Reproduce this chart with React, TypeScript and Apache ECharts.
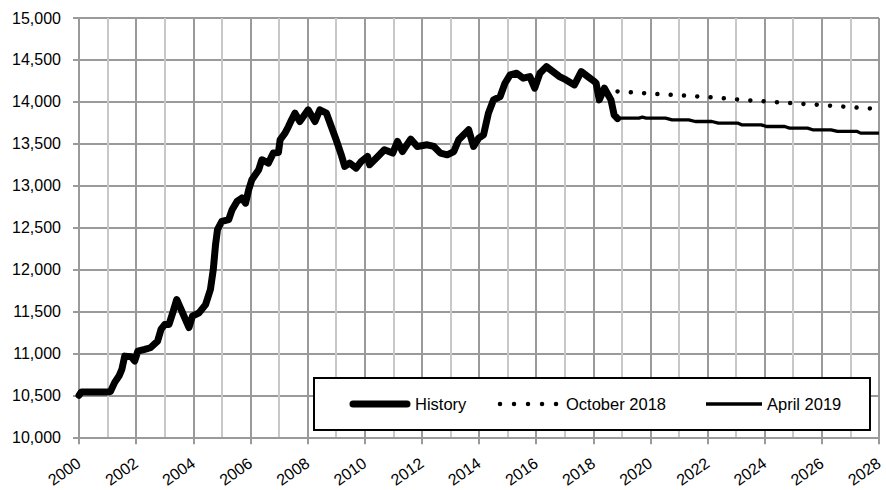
import React, { useEffect, useRef } from "react";
import * as echarts from "echarts";

const historyYears = [
  2000.0, 2000.08, 2000.5, 2001.0, 2001.1, 2001.25, 2001.4, 2001.5, 2001.6, 2001.83, 2001.95,
  2002.06, 2002.3, 2002.5, 2002.75, 2002.87, 2003.0, 2003.15, 2003.28, 2003.42, 2003.62,
  2003.85, 2003.97, 2004.2, 2004.43, 2004.6, 2004.7, 2004.78, 2004.85, 2005.0, 2005.24,
  2005.36, 2005.53, 2005.7, 2005.83, 2005.94, 2006.05, 2006.29, 2006.4, 2006.63, 2006.8,
  2006.98, 2007.04, 2007.21, 2007.33, 2007.44, 2007.56, 2007.73, 2008.02, 2008.26, 2008.43,
  2008.66, 2008.83, 2009.0, 2009.18, 2009.3, 2009.47, 2009.7, 2009.88, 2010.1, 2010.17,
  2010.46, 2010.69, 2010.98, 2011.15, 2011.32, 2011.61, 2011.84, 2012.19, 2012.42, 2012.65,
  2012.89, 2013.12, 2013.29, 2013.64, 2013.81, 2013.99, 2014.16, 2014.33, 2014.51, 2014.74,
  2014.91, 2015.09, 2015.32, 2015.55, 2015.78, 2015.95, 2016.13, 2016.36, 2016.59, 2016.82,
  2017.05, 2017.34, 2017.58, 2017.81, 2018.04, 2018.1, 2018.21, 2018.39, 2018.62, 2018.73,
  2018.85,
];
const historyValues = [
  10500, 10540, 10540, 10540, 10545, 10655, 10730, 10810, 10968, 10960, 10910,
  11027, 11048, 11068, 11146, 11286, 11345, 11345, 11484, 11643, 11488,
  11309, 11444, 11484, 11583, 11762, 12000, 12300, 12480, 12575, 12595,
  12714, 12813, 12853, 12793, 12952, 13071, 13190, 13310, 13270, 13389,
  13395, 13548, 13627, 13706, 13786, 13865, 13766, 13905, 13766, 13905,
  13865, 13706, 13548, 13369, 13230, 13270, 13210, 13290, 13349, 13250,
  13349, 13429, 13389, 13528, 13408, 13556, 13468, 13488, 13468, 13389,
  13369, 13408, 13548, 13667, 13468, 13568, 13607, 13865, 14024, 14063,
  14222, 14321, 14341, 14282, 14301, 14163, 14341, 14420, 14361, 14301,
  14262, 14202, 14361, 14301, 14242, 14222, 14024, 14163, 14024, 13845,
  13800,
];

const october2018Years = [2018.85, 2019, 2020, 2021, 2022, 2023, 2024, 2025, 2026, 2027, 2028];
const october2018Values = [14125, 14122, 14098, 14078, 14058, 14030, 14005, 13983, 13962, 13937, 13915];

const april2019Years = [
  2018.85, 2019.6, 2019.72, 2019.85, 2020.53, 2020.76, 2021.34, 2021.57, 2022.15, 2022.38,
  2023.07, 2023.19, 2023.88, 2024.06, 2024.7, 2024.87, 2025.5, 2025.68, 2026.32, 2026.55,
  2027.24, 2027.36, 2028.0,
];
const april2019Values = [
  13806, 13806, 13817, 13806, 13806, 13786, 13786, 13766, 13766, 13746,
  13746, 13726, 13726, 13706, 13706, 13687, 13687, 13667, 13667, 13647,
  13647, 13627, 13627,
];

const seriesNames = ["History", "October 2018", "April 2019"];

const FONT = "'Liberation Sans', Arial, sans-serif";
const DARK_GRID = "#9a9a9a";
const LIGHT_GRID = "#c8c8c8";

const zip = (xs: number[], ys: number[]) => xs.map((x, i) => [x, ys[i]]);

export default function App() {
  const ref = useRef<HTMLDivElement>(null);

  useEffect(() => {
    if (!ref.current) return;
    const chart = echarts.init(ref.current, undefined, { renderer: "svg" });
    const legendY = 404;
    const option: any = {
      animation: false,
      backgroundColor: "#ffffff",
      grid: { left: 79, right: 1, top: 18, bottom: 52, containLabel: false },
      xAxis: {
        type: "value",
        min: 2000,
        max: 2028,
        interval: 2,
        splitNumber: 14,
        axisLine: { show: true, onZero: false, lineStyle: { color: DARK_GRID, width: 2 } },
        axisTick: { show: true, length: 7, lineStyle: { color: DARK_GRID, width: 2 } },
        minorTick: { show: false, splitNumber: 2 },
        axisLabel: {
          rotate: 35,
          margin: 24,
          fontSize: 16,
          fontFamily: FONT,
          color: "#000",
          formatter: (v: number) => String(v),
        },
        splitLine: { show: true, lineStyle: { color: DARK_GRID, width: 2 } },
        minorSplitLine: { show: true, lineStyle: { color: LIGHT_GRID, width: 2 } },
      },
      yAxis: {
        type: "value",
        min: 10000,
        max: 15000,
        interval: 500,
        axisLine: { show: true, lineStyle: { color: DARK_GRID, width: 2 } },
        axisTick: { show: true, length: 6, lineStyle: { color: DARK_GRID, width: 2 } },
        axisLabel: {
          margin: 18,
          fontSize: 16,
          fontFamily: FONT,
          color: "#000",
        },
        splitLine: { show: true, lineStyle: { color: DARK_GRID, width: 2 } },
      },
      series: [
        {
          name: seriesNames[0],
          type: "line",
          data: zip(historyYears, historyValues),
          showSymbol: false,
          symbol: "none",
          z: 5,
          lineStyle: { color: "#000", width: 7, cap: "round", join: "round" },
        },
        {
          name: seriesNames[1],
          type: "line",
          data: zip(october2018Years, october2018Values),
          showSymbol: false,
          symbol: "none",
          z: 4,
          lineStyle: { color: "#000", width: 4.5, type: [0.01, 13.3], cap: "round" },
        },
        {
          name: seriesNames[2],
          type: "line",
          data: zip(april2019Years, april2019Values),
          showSymbol: false,
          symbol: "none",
          z: 4,
          lineStyle: { color: "#000", width: 3.3 },
        },
      ],
      graphic: [
        {
          type: "rect",
          z: 100,
          shape: { x: 314, y: 378, width: 556, height: 52 },
          style: { fill: "#fff", stroke: "#000", lineWidth: 2 },
        },
        {
          type: "line",
          z: 101,
          shape: { x1: 353, y1: legendY, x2: 407, y2: legendY },
          style: { stroke: "#000", lineWidth: 7, lineCap: "round" },
        },
        {
          type: "text",
          z: 101,
          x: 415,
          y: legendY,
          style: { text: seriesNames[0], font: `16.5px ${FONT}`, fill: "#000", verticalAlign: "middle", align: "left" },
        },
        {
          type: "line",
          z: 101,
          shape: { x1: 500, y1: legendY, x2: 557, y2: legendY },
          style: { stroke: "#000", lineWidth: 4.5, lineCap: "round", lineDash: [0.01, 14] },
        },
        {
          type: "text",
          z: 101,
          x: 566,
          y: legendY,
          style: { text: seriesNames[1], font: `16.5px ${FONT}`, fill: "#000", verticalAlign: "middle", align: "left" },
        },
        {
          type: "line",
          z: 101,
          shape: { x1: 706, y1: legendY, x2: 762, y2: legendY },
          style: { stroke: "#000", lineWidth: 3.3 },
        },
        {
          type: "text",
          z: 101,
          x: 767,
          y: legendY,
          style: { text: seriesNames[2], font: `16.5px ${FONT}`, fill: "#000", verticalAlign: "middle", align: "left" },
        },
      ],
    };
    chart.setOption(option);
    return () => chart.dispose();
  }, []);

  return (
    <div
      ref={ref}
      style={{ position: "fixed", left: 0, top: 0, width: 886, height: 490, background: "#fff" }}
    />
  );
}
